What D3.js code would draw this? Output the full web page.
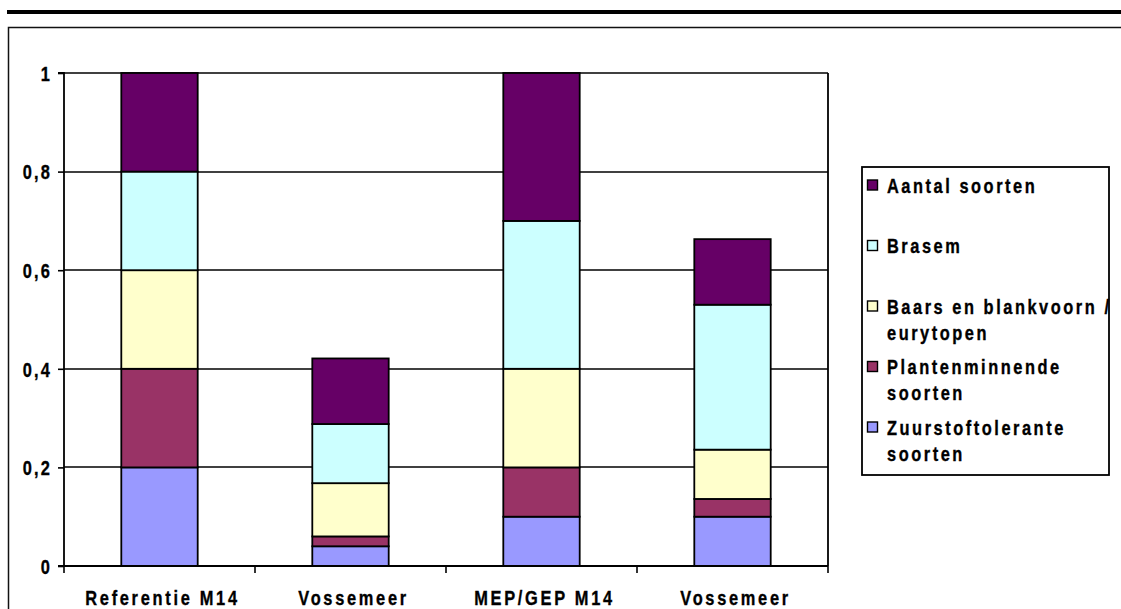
<!DOCTYPE html>
<html>
<head>
<meta charset="utf-8">
<script src="https://cdn.jsdelivr.net/npm/d3@7/dist/d3.min.js"></script>
<style>
  html, body { margin: 0; padding: 0; background: #fff; }
  svg { display: block; }
  text { font-family: "Liberation Sans", Arial, sans-serif; font-weight: bold; fill: #000; stroke: #000; stroke-width: 0.35px; }
</style>
</head>
<body>
<script>
// Categories along the x axis
const categories = ["Referentie M14", "Vossemeer", "MEP/GEP M14", "Vossemeer"];

// Stacked series, bottom to top
const zuurstoftolerante = [0.2, 0.04, 0.1, 0.1];
const plantenminnende   = [0.2, 0.02, 0.1, 0.036];
const baarsBlankvoorn   = [0.2, 0.108, 0.2, 0.1];
const brasem            = [0.2, 0.12, 0.3, 0.294];
const aantalSoorten     = [0.2, 0.133, 0.3, 0.133];

const seriesNames = [
  "Zuurstoftolerante soorten",
  "Plantenminnende soorten",
  "Baars en blankvoorn / eurytopen",
  "Brasem",
  "Aantal soorten"
];
// Legend lines per series (wrapped as in the legend box)
const legendLines = [
  ["Zuurstoftolerante", "soorten"],
  ["Plantenminnende", "soorten"],
  ["Baars en blankvoorn /", "eurytopen"],
  ["Brasem"],
  ["Aantal soorten"]
];
const seriesColors = ["#9999FF", "#993366", "#FFFFCC", "#CCFFFF", "#660066"];

// Y axis tick values
const yTicks = [0, 0.2, 0.4, 0.6, 0.8, 1];

const W = 1121, H = 609;
const FONT = "20px";
const SQUEEZE = 0.82;   // condensed, widely tracked lettering
const at = (px, py) => `translate(${px},${py}) scale(${SQUEEZE},1)`;

const svg = d3.select("body").append("svg").attr("width", W).attr("height", H);

// Heavy rule across the top of the page
svg.append("rect").attr("x", 7).attr("y", 10).attr("width", W - 7).attr("height", 4).attr("fill", "#000");

// Chart frame
svg.append("rect")
  .attr("x", 8.5).attr("y", 27.5)
  .attr("width", W + 20).attr("height", H + 20)
  .attr("fill", "none").attr("stroke", "#111").attr("stroke-width", 1.5);

const plot = { left: 64, right: 828, top: 73, bottom: 566 };

const x = d3.scaleBand()
  .domain(d3.range(categories.length))
  .range([plot.left, plot.right])
  .paddingInner(0.6)
  .paddingOuter(0.3);

const y = d3.scaleLinear().domain([0, 1]).range([plot.bottom, plot.top]);

const locale = d3.formatLocale({ decimal: ",", thousands: ".", grouping: [3], currency: ["€", ""] });
const fmt = v => (v === 0 || v === 1) ? String(v) : locale.format(".1f")(v);

// Gridlines
svg.append("g").selectAll("line")
  .data(yTicks.filter(v => v > 0))
  .join("line")
  .attr("x1", plot.left).attr("x2", plot.right)
  .attr("y1", d => Math.round(y(d))).attr("y2", d => Math.round(y(d)))
  .attr("stroke", "#000").attr("stroke-width", 1.6);

// Plot area right border
svg.append("line")
  .attr("x1", plot.right).attr("x2", plot.right)
  .attr("y1", plot.top).attr("y2", plot.bottom)
  .attr("stroke", "#000").attr("stroke-width", 1.8);

// Stacked bars
const table = categories.map((c, i) => ({
  i,
  s0: zuurstoftolerante[i],
  s1: plantenminnende[i],
  s2: baarsBlankvoorn[i],
  s3: brasem[i],
  s4: aantalSoorten[i]
}));
const stack = d3.stack().keys(["s0", "s1", "s2", "s3", "s4"]);
const layers = stack(table);

svg.append("g").selectAll("g")
  .data(layers)
  .join("g")
  .attr("fill", (d, k) => seriesColors[k])
  .selectAll("rect")
  .data(d => d)
  .join("rect")
  .attr("x", d => x(d.data.i))
  .attr("width", x.bandwidth())
  .attr("y", d => y(d[1]))
  .attr("height", d => y(d[0]) - y(d[1]))
  .attr("stroke", "#000")
  .attr("stroke-width", 1.8);

// Y axis
const yAxis = d3.axisLeft(y).tickValues(yTicks).tickFormat(fmt).tickSize(6).tickPadding(8);
const gy = svg.append("g").attr("transform", `translate(${plot.left},0)`).call(yAxis);
gy.select(".domain").attr("stroke", "#000").attr("stroke-width", 1.8).attr("d", `M-6,${plot.top}H0V${plot.bottom}`);
gy.selectAll(".tick line").attr("stroke", "#000").attr("stroke-width", 1.6);
gy.selectAll(".tick text")
  .attr("x", 0)
  .attr("dy", "0.36em")
  .attr("transform", at(-12, 0))
  .style("font-size", FONT)
  .style("font-family", "'Liberation Sans', Arial, sans-serif")
  .style("font-weight", "bold")
  .style("letter-spacing", "2.6px")
  .attr("fill", "#000");

// X axis line and category separators
const gx = svg.append("g");
gx.append("line")
  .attr("x1", plot.left - 6).attr("x2", plot.right)
  .attr("y1", plot.bottom).attr("y2", plot.bottom)
  .attr("stroke", "#000").attr("stroke-width", 1.8);
gx.selectAll("line.sep")
  .data(d3.range(categories.length + 1))
  .join("line")
  .attr("class", "sep")
  .attr("x1", k => plot.left + k * x.step())
  .attr("x2", k => plot.left + k * x.step())
  .attr("y1", plot.bottom).attr("y2", plot.bottom + 7)
  .attr("stroke", "#000").attr("stroke-width", 1.6);
gx.selectAll("text")
  .data(categories)
  .join("text")
  .attr("transform", (d, i) => at(x(i) + x.bandwidth() / 2 + 3, 605))
  .attr("text-anchor", "middle")
  .style("font-size", FONT)
  .style("letter-spacing", "3.3px")
  .text(d => d);

// Legend
const lg = svg.append("g");
lg.append("rect")
  .attr("x", 862).attr("y", 167)
  .attr("width", 247).attr("height", 308)
  .attr("fill", "#fff").attr("stroke", "#000").attr("stroke-width", 1.8);

const legendOrder = d3.range(seriesNames.length).reverse();
const entry = lg.selectAll("g.entry")
  .data(legendOrder)
  .join("g")
  .attr("class", "entry")
  .attr("transform", (k, j) => `translate(0,${192.5 + j * 60.5})`);
entry.append("rect")
  .attr("x", 867.5).attr("y", -12.5)
  .attr("width", 10).attr("height", 10)
  .attr("fill", k => seriesColors[k])
  .attr("stroke", "#000").attr("stroke-width", 1.4);
entry.each(function (k) {
  d3.select(this).selectAll("text")
    .data(legendLines[k])
    .join("text")
    .attr("transform", (t, r) => at(887, r * 26))
    .style("font-size", FONT)
    .style("letter-spacing", "3.1px")
    .text(t => t);
});
</script>
</body>
</html>
